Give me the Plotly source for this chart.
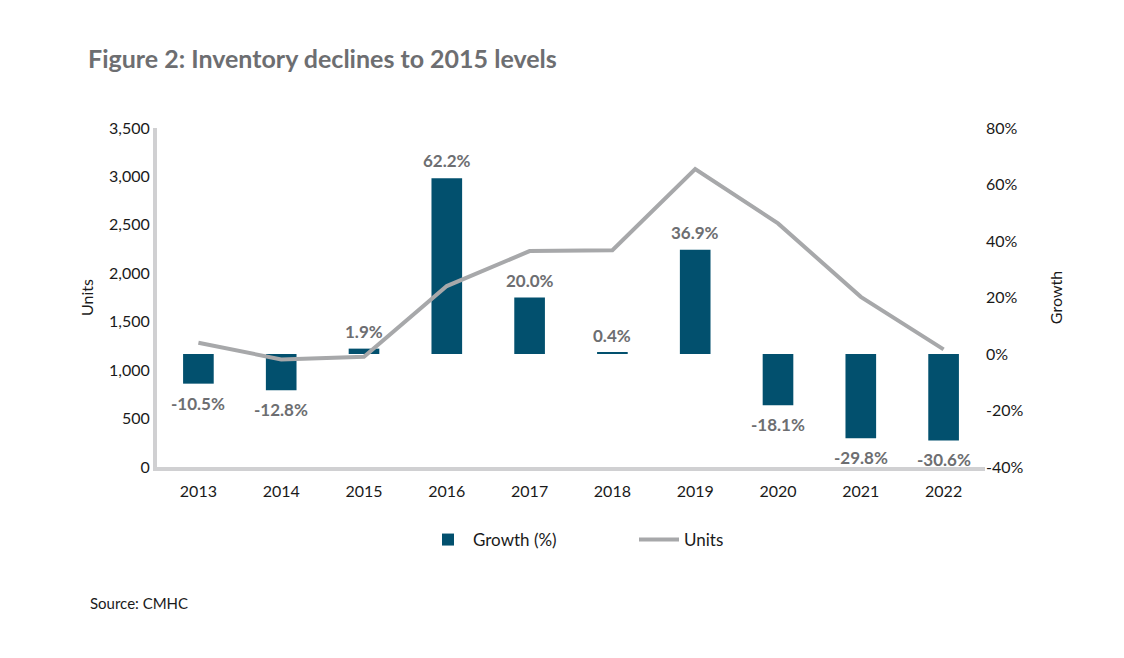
import plotly.graph_objects as go

years = ["2013", "2014", "2015", "2016", "2017", "2018", "2019", "2020", "2021", "2022"]
growth = [-10.5, -12.8, 1.9, 62.2, 20.0, 0.4, 36.9, -18.1, -29.8, -30.6]
units = [1283, 1111, 1138, 1868, 2229, 2239, 3075, 2515, 1757, 1215]
units_ticks = [0, 500, 1000, 1500, 2000, 2500, 3000, 3500]
growth_ticks = [-40, -20, 0, 20, 40, 60, 80]

FONT = "Lato, 'Open Sans', sans-serif"
BAR = "#02506E"
LINE = "#A7A8AA"
AXIS = "#D0D0D2"
LABEL = "#6D6E71"

# page body adds an 8px offset; margins are set in figure coordinates
L, R, T, B = 149, 147, 120, 199
PW = 1124 - L - R
PH = 658 - T - B

fig = go.Figure()
fig.add_trace(go.Bar(
    x=years, y=growth, name="Growth (%)", yaxis="y",
    marker=dict(color=BAR, line=dict(width=0)), width=0.37,
))
fig.add_trace(go.Scatter(
    x=years, y=units, name="Units", yaxis="y2", mode="lines",
    line=dict(color=LINE, width=4),
))

annotations = []
for i, g in enumerate(growth):
    pos = g >= 0
    annotations.append(dict(
        x=i, y=g, xref="x", yref="y", text=f"{g:.1f}%", showarrow=False,
        yanchor="bottom" if pos else "top", yshift=5 if pos else -7,
        font=dict(family=FONT, size=17, color=LABEL, weight="bold"),
    ))
annotations.append(dict(text="Source: CMHC", x=(80 - L) / PW, y=(T + PH - 595) / PH,
                        xref="paper", yref="paper", xanchor="left", yanchor="middle",
                        showarrow=False, font=dict(family=FONT, size=15, color="#1a1a1a")))

fig.update_layout(
    width=1124, height=658,
    paper_bgcolor="white", plot_bgcolor="white",
    margin=dict(l=L, r=R, t=T, b=B),
    font=dict(family=FONT, size=16, color="#1a1a1a"),
    title=dict(text="<b>Figure 2: Inventory declines to 2015 levels</b>",
               x=80 / 1124, xref="container", xanchor="left",
               y=1 - 51 / 658, yref="container", yanchor="middle",
               font=dict(family=FONT, size=25, color=LABEL)),
    xaxis=dict(type="category", categoryorder="array", categoryarray=years,
               range=[-0.5, len(years) - 0.5], showgrid=False, showline=True,
               linecolor=AXIS, linewidth=4, ticks="", tickfont=dict(size=16),
               ticklabelstandoff=7),
    yaxis=dict(side="right", range=[-40, 80], tickvals=growth_ticks,
               ticktext=[f"{v}%" for v in growth_ticks], showgrid=False,
               zeroline=False, showline=False, ticks="",
               title=dict(text="Growth", standoff=28, font=dict(size=16)),
               tickfont=dict(size=16)),
    yaxis2=dict(side="left", overlaying="y", range=[0, 3500], tickvals=units_ticks,
                tickformat=",", showgrid=False, zeroline=False, showline=True,
                linecolor=AXIS, linewidth=4, ticks="",
                title=dict(text="Units", standoff=12, font=dict(size=16)),
                tickfont=dict(size=16)),
    legend=dict(orientation="h", x=(415 - L) / PW, xanchor="left",
                y=(T + PH - 532) / PH, yanchor="middle",
                font=dict(size=17), itemwidth=40, traceorder="normal",
                entrywidth=156, entrywidthmode="pixels"),
    bargap=0.6,
    annotations=annotations,
)

fig.write_html("out.html")
